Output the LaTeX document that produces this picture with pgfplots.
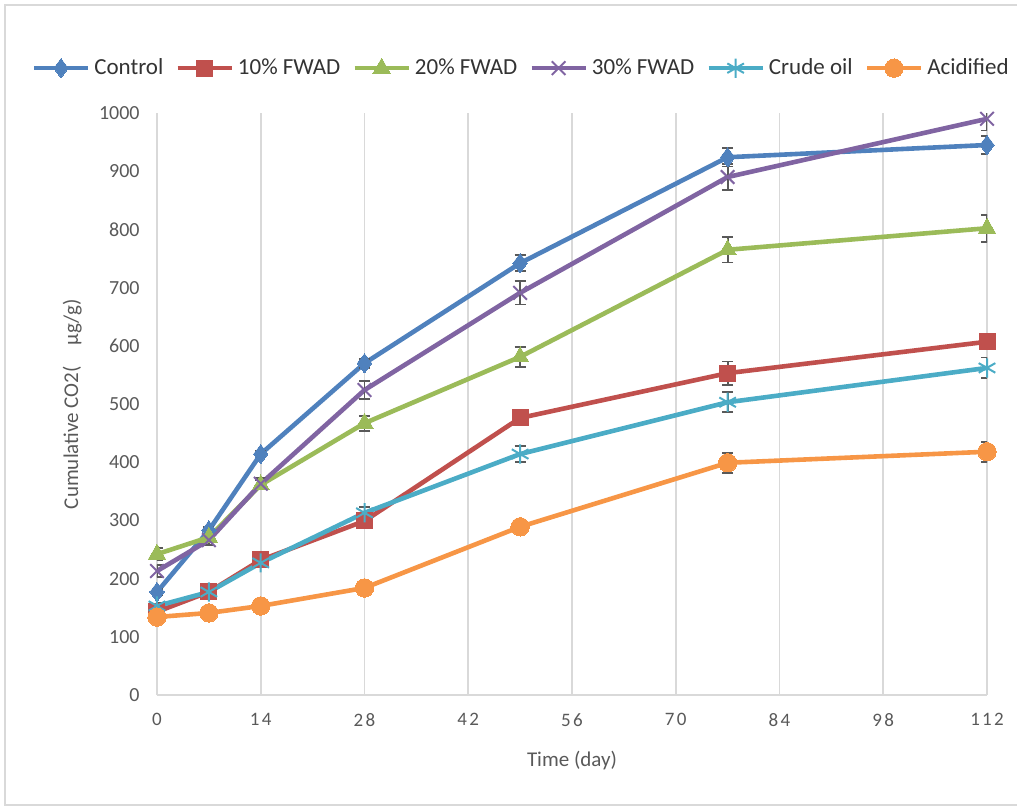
\documentclass[border=0pt]{standalone}
\usepackage{pgfplots}
\pgfplotsset{compat=1.18}
\usepackage{pgfplotstable}
\usepackage{fontspec}
\setmainfont{Carlito}
\definecolor{cA}{HTML}{4F81BD}
\definecolor{cB}{HTML}{C0504D}
\definecolor{cC}{HTML}{9BBB59}
\definecolor{cD}{HTML}{8064A2}
\definecolor{cE}{HTML}{4BACC6}
\definecolor{cF}{HTML}{F79646}
\definecolor{gridc}{HTML}{D9D9D9}
\definecolor{txt}{HTML}{595959}
\definecolor{errc}{HTML}{595959}

\pgfplotstableread{
x y e
0 177 5
7 283 6
14 414 6
28 570 8
49 742 14
77 924 16
112 945 16
}\tcontrol
\pgfplotstableread{
x y e
0 143 5
7 177 5
14 232 6
28 299 12
49 476 8
77 553 20
112 607 10
}\tten
\pgfplotstableread{
x y e
0 242 10
7 271 6
14 361 8
28 467 13
49 581 17
77 765 22
112 802 23
}\ttwenty
\pgfplotstableread{
x y e
0 213 10
7 266 8
14 363 10
28 524 15
49 691 20
77 890 22
112 990 20
}\tthirty
\pgfplotstableread{
x y e
0 153 6
7 177 5
14 227 6
28 313 10
49 414 14
77 503 17
112 562 18
}\tcrude
\pgfplotstableread{
x y e
0 134 5
7 141 4
14 153 4
28 184 5
49 289 6
77 399 17
112 418 17
}\tacid

\begin{document}
\begin{tikzpicture}
\useasboundingbox (-78.5pt,-57.5pt) rectangle (430pt,347.5pt);
\draw[gridc, line width=0.6pt] (-76pt,-55pt) rectangle (432pt,345pt);
\begin{axis}[
  scale only axis,
  width=415pt, height=291pt,
  xmin=0, xmax=112, ymin=0, ymax=1000,
  xtick={0,14,...,112},
  ytick={0,100,...,1000},
  axis x line*=bottom,
  axis y line*=left,
  x axis line style={-, gridc, line width=0.8pt},
  y axis line style={draw=none},
  major tick length=0pt,
  xmajorgrids,
  grid style={gridc, line width=0.8pt},
  /pgf/number format/assume math mode=true,
  /pgf/number format/1000 sep={},
  tick label style={font=\fontsize{10}{12}\selectfont, text=txt},
  yticklabel style={inner sep=0pt, xshift=-8.5pt},
  xticklabel style={inner sep=0pt, yshift=-9pt, font=\fontsize{9.5}{12}\selectfont\addfontfeatures{LetterSpace=12}},
  xlabel={Time (day)},
  ylabel={Cumulative CO2(\hspace{1em}μg/g)},
  label style={font=\fontsize{10.5}{12}\selectfont, text=txt},
  xlabel style={at={(axis description cs:0.5,-0.112)}, anchor=center},
  ylabel style={at={(axis description cs:-0.102,0.5)}, anchor=center},
  legend columns=6,
  legend style={at={(axis description cs:0.44,1.077)}, anchor=center, draw=none, fill=none,
    font=\fontsize{11.5}{13}\selectfont, text=black!80,
    /tikz/every even column/.append style={column sep=4pt}},
  legend image code/.code={\draw[mark repeat=2,mark phase=2] plot coordinates {(0pt,0pt)(13.5pt,0pt)(27pt,0pt)};},
  every axis plot/.append style={line width=2.3pt},
  error bars/y dir=both,
  error bars/y explicit,
  error bars/error bar style={errc, line width=0.9pt, solid},
  error bars/error mark options={rotate=90, errc, mark size=2.8pt, line width=0.9pt},
]
\addplot[cA, mark=diamond*, mark size=4.8pt, mark options={solid, line width=0pt, fill=cA}] table[x=x,y=y,y error=e] {\tcontrol};
\addlegendentry{Control}
\addplot[cB, mark=square*, mark size=4pt, mark options={solid, line width=0pt, fill=cB}] table[x=x,y=y,y error=e] {\tten};
\addlegendentry{10\% FWAD}
\addplot[cC, mark=triangle*, mark size=5pt, mark options={solid, line width=0pt, fill=cC}] table[x=x,y=y,y error=e] {\ttwenty};
\addlegendentry{20\% FWAD}
\addplot[cD, mark=x, mark size=4.8pt, mark options={solid, line width=1pt}] table[x=x,y=y,y error=e] {\tthirty};
\addlegendentry{30\% FWAD}
\addplot[cE, mark=asterisk, mark size=4.8pt, mark options={solid, line width=1pt}] table[x=x,y=y,y error=e] {\tcrude};
\addlegendentry{Crude oil}
\addplot[cF, mark=*, mark size=4.6pt, mark options={solid, line width=0pt, fill=cF}] table[x=x,y=y,y error=e] {\tacid};
\addlegendentry{Acidified}
\end{axis}
\end{tikzpicture}
\end{document}
